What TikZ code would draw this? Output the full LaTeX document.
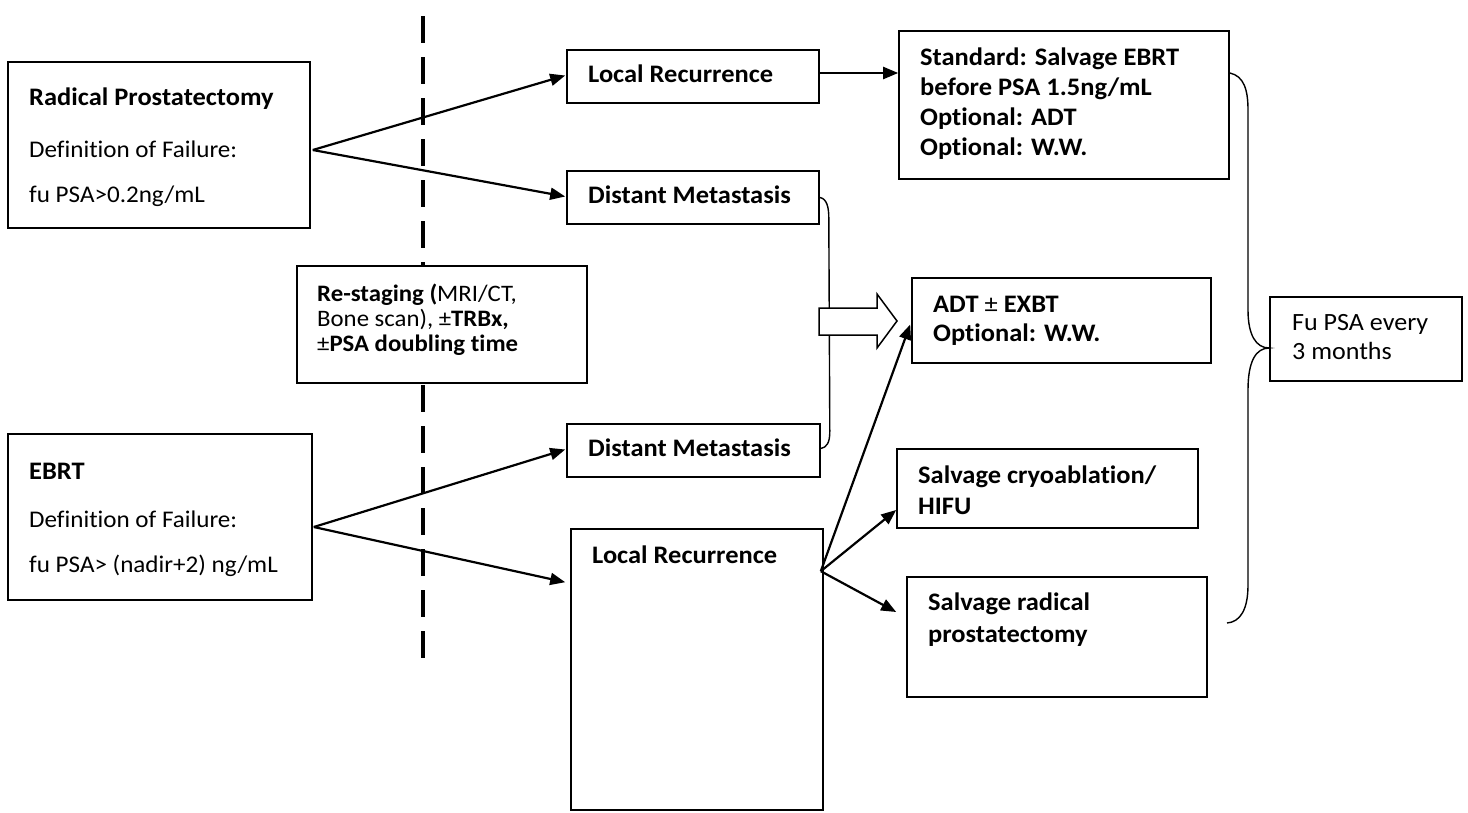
\documentclass[tikz,border=0pt]{standalone}
\usepackage{fontspec}
\setmainfont{Carlito}[FakeStretch=1.05, Ligatures=NoCommon]
\usetikzlibrary{arrows.meta,fit,calc}
\begin{document}
\begin{tikzpicture}[x=1pt,y=-1pt,
  frame/.style={draw, line width=1.6pt, inner sep=0pt, fill=white},
  ptxt/.style={anchor=west, inner sep=0pt, text height=0.7em, text depth=0.2em, font=\fontsize{23.9}{28}\selectfont},
  btxt/.style={ptxt, font=\fontsize{25.2}{30}\selectfont\bfseries},
  mtxt/.style={ptxt, font=\fontsize{23.6}{28}\selectfont},
  ftxt/.style={ptxt, font=\fontsize{24.8}{30}\selectfont},
  link/.style={line width=2.2pt, -{Triangle[length=15pt,width=12pt]}},
  curly/.style={line width=1.4pt},
]
\useasboundingbox (0,0) rectangle (1468,812);
\fill[white] (0,0) rectangle (1468,812);

% time line separating treatment from follow-up
\coordinate (sepTop) at (423,16);
\coordinate (sepBot) at (423,660);
\draw[line width=4pt, dash pattern=on 27pt off 14pt] (sepTop) -- (sepBot);

% primary treatments
\node[frame, fit={(8,62) (310,228)}] (rp) {};
\node[btxt] (rpA) at (29,103) {Radical Prostatectomy};
\node[ptxt] (rpB) at (29,155) {Definition of Failure:};
\node[ptxt] (rpC) at (29,200) {fu PSA>0.2ng/mL};

\node[frame, fit={(8,434) (312,600)}] (ebrt) {};
\node[btxt] (ebA) at (29,477) {EBRT};
\node[ptxt] (ebB) at (29,525) {Definition of Failure:};
\node[ptxt] (ebC) at (29,570) {fu PSA> (nadir+2) ng/mL};

% re-staging
\node[frame, fit={(297,266) (587,383)}] (stage) {};
\node[mtxt] (stA) at (317,299) {\textbf{Re-staging (}MRI/CT,};
\node[mtxt] (stB) at (317,324) {Bone scan), ±\textbf{TRBx,}};
\node[mtxt] (stC) at (317,349) {±\textbf{PSA doubling time}};

% failure patterns
\node[frame, fit={(567,50) (819,103)}] (lr1) {};
\node[btxt] (lr1t) at (588,80) {Local Recurrence};
\node[frame, fit={(567,171) (819,224)}] (dm1) {};
\node[btxt] (dm1t) at (588,201) {Distant Metastasis};
\node[frame, fit={(567,424) (820,477)}] (dm2) {};
\node[btxt] (dm2t) at (588,454) {Distant Metastasis};
\node[frame, fit={(571,529) (823,810)}] (lr2) {};
\node[btxt] (lr2t) at (592,561) {Local Recurrence};

% salvage options
\node[frame, fit={(899,31) (1229,179)}] (std) {};
\node[btxt] (stdA) at (920,63) {Standard: Salvage EBRT};
\node[btxt] (stdB) at (920,93) {before PSA 1.5ng/mL};
\node[btxt] (stdC) at (920,123) {Optional: ADT};
\node[btxt] (stdD) at (920,153) {Optional: W.W.};

\node[frame, fit={(912,278) (1211,363)}] (adt) {};
\node[ptxt, font=\fontsize{25.2}{30}\selectfont] (adtA) at (933,310) {\textbf{ADT} ± \textbf{EXBT}};
\node[btxt] (adtB) at (933,339) {Optional: W.W.};

\node[frame, fit={(897,449) (1198,528)}] (cryo) {};
\node[btxt] (cryoA) at (918,481) {Salvage cryoablation/};
\node[btxt] (cryoB) at (918,512) {HIFU};

\node[frame, fit={(907,577) (1207,697)}] (srp) {};
\node[btxt] (srpA) at (928,608) {Salvage radical};
\node[btxt] (srpB) at (928,640) {prostatectomy};

\node[frame, fit={(1270,297) (1462,381)}] (fu) {};
\node[ftxt] (fuA) at (1292,328) {Fu PSA every};
\node[ftxt] (fuB) at (1292,357) {3 months};

% branching arrows
\coordinate (rpOut) at ($(rp.east)+(2,5)$);
\coordinate (ebOut) at ($(ebrt.east)+(1,10)$);
\coordinate (lrOut) at ($(lr2.north east)+(-3,43)$);
\draw[link] (rpOut) -- ($(lr1.west)+(-1,-1)$);
\draw[link] (rpOut) -- ($(dm1.west)+(-1,-1)$);
\draw[link] (ebOut) -- ($(dm2.west)+(-1,-1)$);
\draw[link] (ebOut) -- ($(lr2.north west)+(-5,54)$);
\draw[link] (lr1.east |- 0,73) -- (std.west |- 0,73);
\draw[link] (lrOut) -- ($(adt.west)+(-1,4)$);
\draw[link] (lrOut) -- (cryo.west |- 0,510);
\draw[link] (lrOut) -- ($(srp.west)+(-10,-25)$);

% distant metastases bracket and block arrow
\draw[curly] (dm1.east) .. controls ($(dm1.east)+(7,1)$) and ($(dm1.east)+(9,10)$) .. ($(dm1.east)+(9,20)$)
  -- ($(dm2.east)+(9,-19)$) .. controls ($(dm2.east)+(9,-8)$) and ($(dm2.east)+(6,-3)$) .. ($(dm2.east)+(0,-2)$);
\draw[line width=1.5pt, fill=white] (819,308) -- (877,308) -- (877,294) -- (897,321)
  -- (877,348) -- (877,335) -- (819,335) -- cycle;

% follow-up brace
\draw[curly] (std.east |- 0,73) .. controls (1244,76) and (1248,90) .. (1248,110)
  -- (1248,310) .. controls (1248,335) and (1256,348) .. (fu.west |- 0,348)
  .. controls (1256,348) and (1248,361) .. (1248,390)
  -- (1248,585) .. controls (1248,610) and (1240,622) .. (1227,623);
\end{tikzpicture}
\end{document}
